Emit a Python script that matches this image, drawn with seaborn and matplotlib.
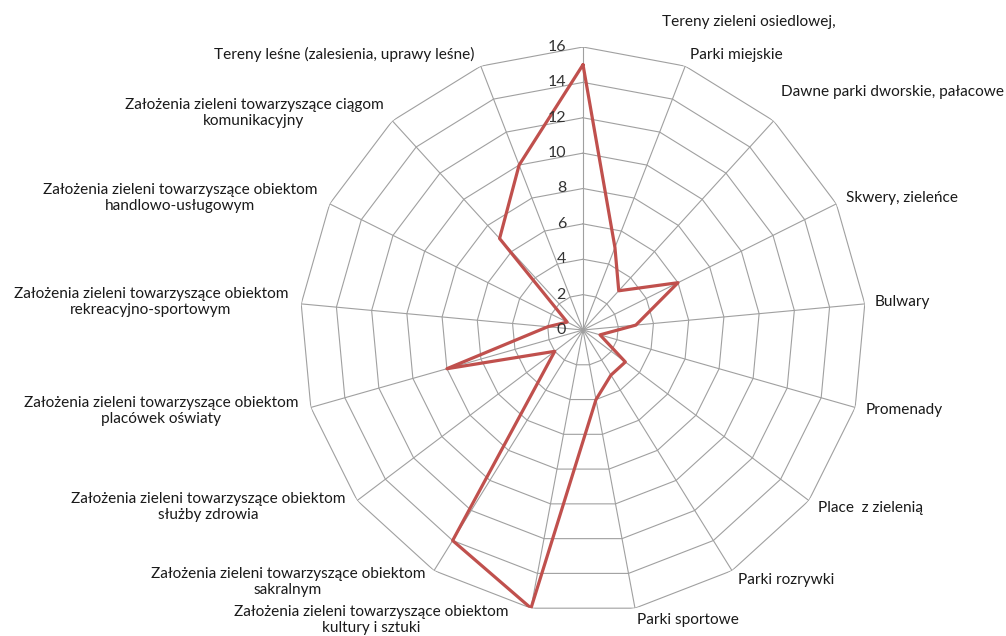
import numpy as np
import pandas as pd
import matplotlib
matplotlib.use("Agg")
import matplotlib.pyplot as plt
import seaborn as sns

categories = [
    "Tereny zieleni osiedlowej,",
    "Parki miejskie",
    "Dawne parki dworskie, pałacowe",
    "Skwery, zieleńce",
    "Bulwary",
    "Promenady",
    "Place  z zielenią",
    "Parki rozrywki",
    "Parki sportowe",
    "Założenia zieleni towarzyszące obiektom\nkultury i sztuki",
    "Założenia zieleni towarzyszące obiektom\nsakralnym",
    "Założenia zieleni towarzyszące obiektom\nsłużby zdrowia",
    "Założenia zieleni towarzyszące obiektom\nplacówek oświaty",
    "Założenia zieleni towarzyszące obiektom\nrekreacyjno-sportowym",
    "Założenia zieleni towarzyszące obiektom\nhandlowo-usługowym",
    "Założenia zieleni towarzyszące ciągom\nkomunikacyjny",
    "Tereny leśne (zalesienia, uprawy leśne)",
]
values = [15, 5, 3, 6, 3, 1, 3, 3, 4, 16, 14, 2, 8, 2, 1, 7, 10]
radial_ticks = [0, 2, 4, 6, 8, 10, 12, 14, 16]

# label layout: (x_px, y_px, ha) in figure pixels (from top-left)
label_layout = [
    (662, 22, "left"),
    (690, 55, "left"),
    (781, 92, "left"),
    (846, 198, "left"),
    (875, 302, "left"),
    (866, 410, "left"),
    (818, 508, "left"),
    (738, 580, "left"),
    (637, 620, "left"),
    (371, 620, "center"),
    (288, 582, "center"),
    (208, 507, "center"),
    (161, 411, "center"),
    (151, 302, "center"),
    (180, 198, "center"),
    (254, 113, "center"),
    (475, 54, "right"),
]

W, H = 1006, 636
sns.set_theme(style="white")
plt.rcParams["font.family"] = ["Lato", "DejaVu Sans"]

fig = plt.figure(figsize=(W / 100, H / 100), dpi=100)
cx, cy, R = 583, 330, 283
ax = fig.add_axes([(cx - R) / W, (H - cy - R) / H, 2 * R / W, 2 * R / H], projection="polar")
ax.set_theta_zero_location("N")
ax.set_theta_direction(-1)
ax.set_ylim(0, 16)
ax.grid(False)
ax.spines["polar"].set_visible(False)
ax.set_xticks([])
ax.set_yticks([])
ax.patch.set_alpha(0)

n = len(categories)
theta = np.arange(n) * 2 * np.pi / n
grid_color = "#a0a0a0"
ring_theta = np.append(theta, 2 * np.pi)
for r in radial_ticks[1:]:
    ax.plot(ring_theta, [r] * (n + 1), color=grid_color, lw=0.8, zorder=1)
for t in theta:
    ax.plot([t, t], [0, 16], color=grid_color, lw=0.8, zorder=1)

df = pd.DataFrame({"theta": np.append(theta, 2 * np.pi), "value": values + [values[0]]})
sns.lineplot(data=df, x="theta", y="value", sort=False, estimator=None, ax=ax,
             color="#c0504d", linewidth=2.3, zorder=3)
ax.set_xlabel("")
ax.set_ylabel("")
ax.set_ylim(0, 16)

# radial tick labels along the top spoke
for r in radial_ticks:
    ypx = cy - r * R / 16
    fig.text((cx - 17) / W, 1 - ypx / H, str(r), ha="right", va="center",
             fontsize=11.5, color="#333333")

for lab, (x, y, ha) in zip(categories, label_layout):
    fig.text(x / W, 1 - y / H, lab, ha=ha, va="center", fontsize=11.1,
             color="#1a1a1a", linespacing=1.2, multialignment="center")

fig.savefig("out.png", dpi=100)
